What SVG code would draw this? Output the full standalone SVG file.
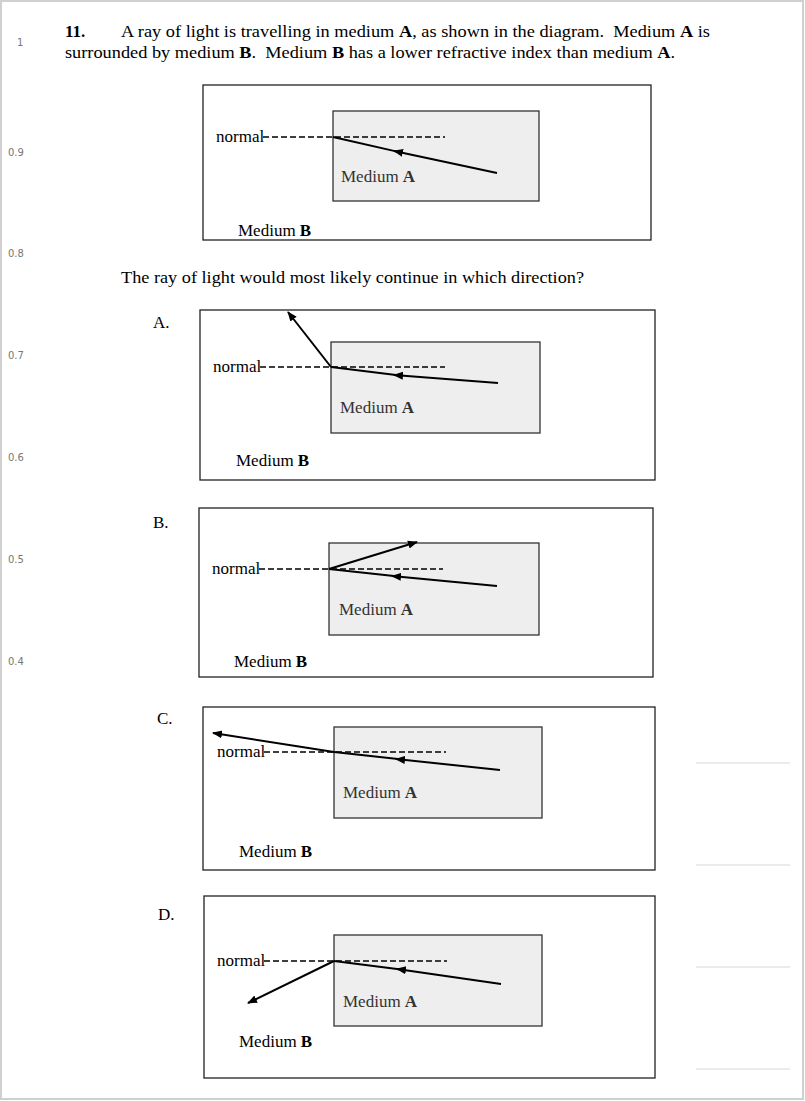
<svg xmlns="http://www.w3.org/2000/svg" width="805" height="1101" viewBox="0 0 805 1101">
<defs>
<style>
.t{font-family:"Liberation Serif","Times New Roman",serif;font-size:17px;fill:#000}
.q{font-family:"Liberation Serif","Times New Roman",serif;font-size:17px;fill:#000}
.ma{font-family:"Liberation Serif","Times New Roman",serif;font-size:17px;fill:#333}
.m{font-family:"DejaVu Sans","Open Sans",sans-serif;font-size:10px;fill:#777}
.outer{fill:#fff;stroke:#222;stroke-width:1.3}
.inner{fill:#eeeeee;stroke:#333;stroke-width:1.3}
.norm{stroke:#000;stroke-width:1.4;stroke-dasharray:6 3;fill:none}
.ray{stroke:#000;stroke-width:2;fill:none}
.rule{stroke:#d8d8d8;stroke-width:1.2}
</style>
<marker id="ah" viewBox="0 0 10 10" refX="9" refY="5" markerWidth="10" markerHeight="10" markerUnits="userSpaceOnUse" orient="auto">
<path d="M0,1 L10,5 L0,9 z" fill="#000"/>
</marker>
</defs>
<rect x="0" y="0" width="805" height="1101" fill="#fff"/>
<rect x="1" y="1" width="802" height="1098" fill="none" stroke="#d0d0d0" stroke-width="2"/>

<g id="margin">
<text class="m" x="17" y="46">1</text>
<text class="m" x="8" y="156">0.9</text>
<text class="m" x="8" y="257">0.8</text>
<text class="m" x="8" y="359">0.7</text>
<text class="m" x="8" y="461">0.6</text>
<text class="m" x="8" y="563">0.5</text>
<text class="m" x="8" y="665">0.4</text>
<line class="rule" x1="696" y1="763" x2="790" y2="763"/>
<line class="rule" x1="696" y1="865" x2="790" y2="865"/>
<line class="rule" x1="696" y1="967" x2="790" y2="967"/>
<line class="rule" x1="696" y1="1069" x2="790" y2="1069"/>
</g>

<g id="question">
<text class="q" x="65" y="37" font-weight="bold">11.</text>
<text class="q" x="121" y="37" textLength="589" lengthAdjust="spacingAndGlyphs">A ray of light is travelling in medium <tspan font-weight="bold">A</tspan>, as shown in the diagram.&#160; Medium <tspan font-weight="bold">A</tspan> is</text>
<text class="q" x="65" y="58" textLength="610" lengthAdjust="spacingAndGlyphs">surrounded by medium <tspan font-weight="bold">B</tspan>.&#160; Medium <tspan font-weight="bold">B</tspan> has a lower refractive index than medium <tspan font-weight="bold">A</tspan>.</text>
<text class="q" x="121" y="283" textLength="463" lengthAdjust="spacingAndGlyphs">The ray of light would most likely continue in which direction?</text>
</g>

<g id="main-diagram">
<rect class="outer" x="203" y="85" width="448" height="155"/>
<rect class="inner" x="333" y="111" width="206" height="90"/>
<text class="t" x="216" y="142">normal</text>
<line class="norm" x1="263" y1="137" x2="445" y2="137"/>
<text class="ma" x="341" y="182">Medium <tspan font-weight="bold">A</tspan></text>
<text class="t" x="238" y="236">Medium <tspan font-weight="bold">B</tspan></text>
</g>

<g id="option-a">
<text class="t" x="153" y="328">A.</text>
<rect class="outer" x="200" y="310" width="455" height="170"/>
<rect class="inner" x="331" y="342" width="209" height="91"/>
<text class="t" x="213" y="372">normal</text>
<line class="norm" x1="260" y1="367" x2="445" y2="367"/>
<text class="ma" x="340" y="413">Medium <tspan font-weight="bold">A</tspan></text>
<text class="t" x="236" y="466">Medium <tspan font-weight="bold">B</tspan></text>
</g>

<g id="option-b">
<text class="t" x="153" y="528">B.</text>
<rect class="outer" x="199" y="508" width="454" height="169"/>
<rect class="inner" x="329" y="543" width="210" height="92"/>
<text class="t" x="212" y="574">normal</text>
<line class="norm" x1="259" y1="569" x2="443" y2="569"/>
<text class="ma" x="339" y="615">Medium <tspan font-weight="bold">A</tspan></text>
<text class="t" x="234" y="667">Medium <tspan font-weight="bold">B</tspan></text>
</g>

<g id="option-c">
<text class="t" x="157" y="724">C.</text>
<rect class="outer" x="203" y="707" width="452" height="163"/>
<rect class="inner" x="334" y="727" width="208" height="91"/>
<text class="t" x="217" y="757">normal</text>
<line class="norm" x1="264" y1="752" x2="446" y2="752"/>
<text class="ma" x="343" y="798">Medium <tspan font-weight="bold">A</tspan></text>
<text class="t" x="239" y="857">Medium <tspan font-weight="bold">B</tspan></text>
</g>

<g id="option-d">
<text class="t" x="158" y="920">D.</text>
<rect class="outer" x="204" y="896" width="451" height="182"/>
<rect class="inner" x="334" y="935" width="208" height="91"/>
<text class="t" x="217" y="966">normal</text>
<line class="norm" x1="264" y1="961" x2="447" y2="961"/>
<text class="ma" x="343" y="1007">Medium <tspan font-weight="bold">A</tspan></text>
<text class="t" x="239" y="1047">Medium <tspan font-weight="bold">B</tspan></text>
</g>

<g id="connectors">
<line class="ray" x1="497" y1="173" x2="394" y2="151" marker-end="url(#ah)"/>
<line class="ray" x1="396" y1="151.4" x2="333" y2="137"/>

<line class="ray" x1="498" y1="383" x2="394" y2="375" marker-end="url(#ah)"/>
<line class="ray" x1="396" y1="375" x2="331" y2="367"/>
<line class="ray" x1="331" y1="367" x2="288" y2="312" marker-end="url(#ah)"/>

<line class="ray" x1="497" y1="586" x2="392" y2="576" marker-end="url(#ah)"/>
<line class="ray" x1="394" y1="576" x2="329" y2="569"/>
<line class="ray" x1="329" y1="569" x2="417" y2="542" marker-end="url(#ah)"/>

<line class="ray" x1="500" y1="770" x2="396" y2="759" marker-end="url(#ah)"/>
<line class="ray" x1="398" y1="759" x2="334" y2="752"/>
<line class="ray" x1="334" y1="752" x2="213" y2="733" marker-end="url(#ah)"/>

<line class="ray" x1="501" y1="984" x2="397" y2="969" marker-end="url(#ah)"/>
<line class="ray" x1="399" y1="969.3" x2="334" y2="961"/>
<line class="ray" x1="334" y1="961" x2="248" y2="1003" marker-end="url(#ah)"/>
</g>
</svg>
